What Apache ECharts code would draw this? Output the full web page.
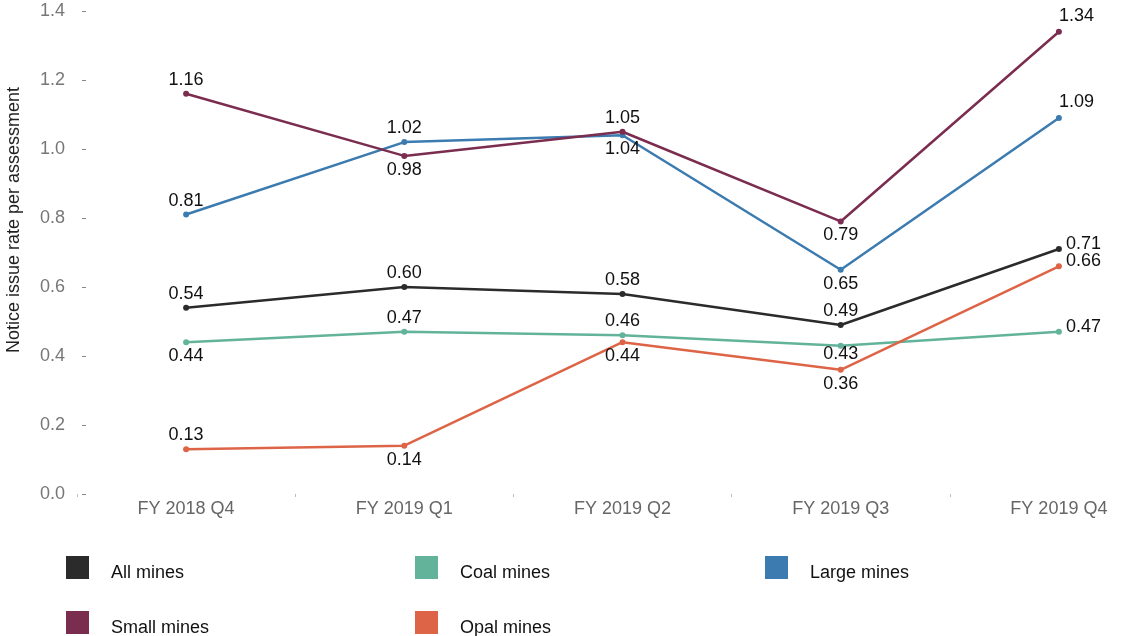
<!DOCTYPE html>
<html>
<head>
<meta charset="utf-8">
<script src="https://cdn.jsdelivr.net/npm/echarts@6/dist/echarts.min.js"></script>
<style>
  html, body { margin: 0; padding: 0; background: #fff; }
  #chart { width: 1138px; height: 636px; }
</style>
</head>
<body>
<div id="chart"></div>
<script>
// quarters on the x axis
var categories = ['FY 2018 Q4', 'FY 2019 Q1', 'FY 2019 Q2', 'FY 2019 Q3', 'FY 2019 Q4'];

// notice issue rate per assessment
var allMines   = [0.54, 0.60, 0.58, 0.49, 0.71];
var coalMines  = [0.44, 0.47, 0.46, 0.43, 0.47];
var largeMines = [0.81, 1.02, 1.04, 0.65, 1.09];
var smallMines = [1.16, 0.98, 1.05, 0.79, 1.34];
var opalMines  = [0.13, 0.14, 0.44, 0.36, 0.66];

var yTicks = [0, 0.2, 0.4, 0.6, 0.8, 1.0, 1.2, 1.4];

var font = '"Liberation Sans", Arial, sans-serif';

// where each value label sits (t = top, b = bottom, r = right, tl = top, left aligned)
var labelSpots = {
  all:   ['t', 't', 't', 't', 'r'],
  coal:  ['b', 't', 't', 'b2', 'r'],
  large: ['t', 't', 'b', 'b', 'tl'],
  small: ['t', 'b', 't', 'b', 'tl'],
  opal:  ['t', 'b', 'b', 'b', 'r']
};

function labelFor(spot) {
  var base = { show: true, color: '#111', fontSize: 18, fontFamily: font,
               formatter: function (p) { return p.value.toFixed(2); } };
  if (spot === 't') { base.position = 'top'; base.distance = 2; }
  if (spot === 'b') { base.position = 'bottom'; base.distance = 2; }
  if (spot === 'b2') { base.position = 'bottom'; base.distance = -4; }
  if (spot === 'r') { base.position = 'right'; base.distance = 4; base.offset = [0, -5]; }
  if (spot === 'tl') { base.position = 'top'; base.distance = 4; base.align = 'left'; }
  return base;
}

function makeSeries(name, values, color, spots) {
  return {
    name: name,
    type: 'line',
    data: values.map(function (v, i) { return { value: v, label: labelFor(spots[i]) }; }),
    symbol: 'circle',
    symbolSize: 6,
    lineStyle: { color: color, width: 2.5 },
    itemStyle: { color: color },
    emphasis: { disabled: true },
    z: 2
  };
}

// one legend per entry so the 3 x 2 layout is fixed
function legendAt(name, left, top) {
  return {
    data: [name],
    left: left,
    top: top,
    padding: 0,
    icon: 'rect',
    itemWidth: 23,
    itemHeight: 23,
    selectedMode: false,
    formatter: '{t|{name}}',
    textStyle: {
      rich: { t: { fontSize: 18, color: '#111', fontFamily: font, padding: [11, 0, 0, 17] } }
    }
  };
}

var chart = echarts.init(document.getElementById('chart'));
chart.setOption({
  animation: false,
  textStyle: { fontFamily: font },
  color: ['#2b2b2b', '#62b39a', '#3b7bb0', '#7b2d50', '#dd6446'],
  grid: { left: 77, top: 11, width: 1091, height: 483, containLabel: false, outerBoundsMode: 'none' },
  legend: [
    legendAt('All mines', 66, 556),
    legendAt('Coal mines', 415, 556),
    legendAt('Large mines', 765, 556),
    legendAt('Small mines', 66, 611),
    legendAt('Opal mines', 415, 611)
  ],
  graphic: [{
    type: 'text',
    x: 14,
    y: 220,
    rotation: Math.PI / 2,
    style: {
      text: 'Notice issue rate per assessment',
      fontSize: 18,
      fontFamily: font,
      fill: '#222',
      align: 'center',
      verticalAlign: 'middle'
    }
  }],
  xAxis: {
    type: 'category',
    data: categories,
    boundaryGap: true,
    axisLine: { show: false },
    axisTick: { show: true, length: 3, lineStyle: { color: '#bbb' } },
    axisLabel: { color: '#666', fontSize: 18, fontFamily: font, margin: 6 },
    splitLine: { show: false }
  },
  yAxis: {
    type: 'value',
    min: yTicks[0],
    max: yTicks[yTicks.length - 1],
    interval: 0.2,
    offset: -9,
    axisLine: { show: false },
    axisTick: { show: true, length: 4, lineStyle: { color: '#888' } },
    axisLabel: { color: '#777', fontSize: 18, fontFamily: font, margin: 21,
                 formatter: function (v) { return v.toFixed(1); } },
    splitLine: { show: false }
  },
  series: [
    makeSeries('All mines', allMines, '#2b2b2b', labelSpots.all),
    makeSeries('Coal mines', coalMines, '#62b39a', labelSpots.coal),
    makeSeries('Large mines', largeMines, '#3b7bb0', labelSpots.large),
    makeSeries('Small mines', smallMines, '#7b2d50', labelSpots.small),
    makeSeries('Opal mines', opalMines, '#dd6446', labelSpots.opal)
  ]
});
</script>
</body>
</html>
